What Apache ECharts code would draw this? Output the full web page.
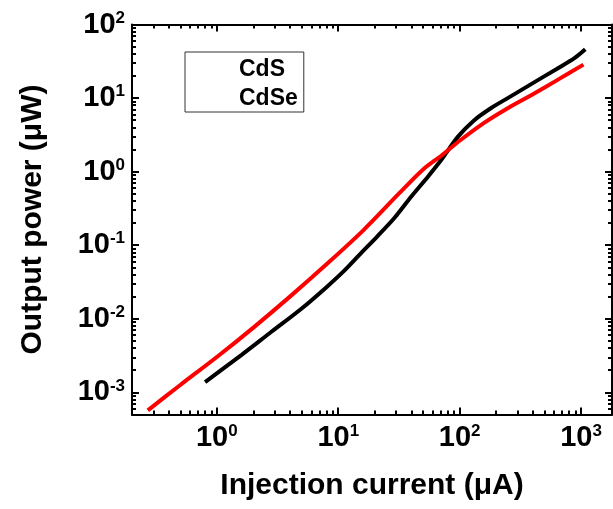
<!DOCTYPE html>
<html><head><meta charset="utf-8">
<script src="https://cdn.jsdelivr.net/npm/echarts@6/dist/echarts.min.js"></script>
<style>html,body{margin:0;padding:0;background:#fff}#c{width:613px;height:509px}</style>
</head><body><div id="c"></div>
<script>
// ---- data (log-log) ----
const cdsCurrent = [0.8, 1.6, 2.7, 5, 8, 11, 15, 21, 29, 40, 55, 71, 97, 132, 182, 251, 398, 631, 883, 1084];
const cdsPower   = [0.00138, 0.00324, 0.00631, 0.0138, 0.0269, 0.0437, 0.0745, 0.132, 0.234, 0.46, 0.861, 1.46, 2.99, 5.01, 7.33, 10.07, 15.85, 24.9, 34.8, 46];
const cdseCurrent = [0.27, 0.5, 1, 2, 4, 8, 16, 32, 50, 71, 100, 158, 251, 398, 631, 1047];
const cdsePower   = [0.000569, 0.00126, 0.00302, 0.00759, 0.02, 0.055, 0.158, 0.513, 1.07, 1.66, 2.63, 4.57, 7.33, 11.2, 17.4, 28.5];
const seriesNames = ['CdS', 'CdSe'];
const xMajorTicks = [1, 10, 100, 1000];
const yMajorTicks = [0.001, 0.01, 0.1, 1, 10, 100];
const xRange = [0.2, 1800];
const yRange = [0.0005, 100];

function minorTicks(range) {
  const out = [];
  for (let e = -5; e <= 5; e++) {
    for (let k = 2; k <= 9; k++) {
      const v = k * Math.pow(10, e);
      if (v >= range[0] * 0.999 && v <= range[1] * 1.001) out.push(v);
    }
  }
  return out;
}
const xMinorTicks = minorTicks(xRange);
const yMinorTicks = minorTicks(yRange);

const FONT = '"Liberation Sans", Arial, sans-serif';
const rich = {
  b: { fontSize: 29, fontWeight: 'bold', fontFamily: FONT, color: '#000', lineHeight: 30 },
  s: { fontSize: 17, fontWeight: 'bold', fontFamily: FONT, color: '#000', verticalAlign: 'top', lineHeight: 30 }
};
function supLabel(v) {
  const e = Math.round(Math.log10(v));
  return '{b|10}{s|' + e + '}';
}

function makeAxis(dim, position, major, range, showLine, withLabels, name) {
  const ax = {
    type: 'log', logBase: 10, gridIndex: 0, position: position, offset: 0,
    min: range[0], max: range[1],
    axisLine: { show: showLine, onZero: false, lineStyle: { color: '#000', width: 2 } },
    axisTick: { show: true, inside: true, customValues: major ? (dim === 'x' ? xMajorTicks : yMajorTicks) : (dim === 'x' ? xMinorTicks : yMinorTicks),
                length: major ? 7 : 4, lineStyle: { color: '#000', width: 2 } },
    axisLabel: { show: withLabels },
    splitLine: { show: false },
    minorTick: { show: false },
    silent: true
  };
  if (withLabels) {
    ax.axisLabel = {
      show: true, customValues: dim === 'x' ? xMajorTicks : yMajorTicks,
      formatter: supLabel, rich: rich, margin: dim === 'x' ? 8 : 7
    };
  }
  if (name) {
    ax.name = name;
    ax.nameLocation = 'middle';
    ax.nameTextStyle = { fontSize: 30, fontWeight: 'bold', fontFamily: FONT, color: '#000' };
    if (dim === 'x') { ax.nameGap = 56; } else { ax.nameGap = 84; ax.nameRotate = 90; }
  }
  return ax;
}

const option = {
  backgroundColor: '#fff',
  animation: false,
  grid: { left: 132, right: 1, top: 24.5, bottom: 94.5, containLabel: false, outerBoundsMode: 'none' },
  xAxis: [
    makeAxis('x', 'bottom', true, xRange, true, true, 'Injection current (\u03bcA)'),
    makeAxis('x', 'bottom', false, xRange, false, false),
    makeAxis('x', 'top', true, xRange, true, false),
    makeAxis('x', 'top', false, xRange, false, false)
  ],
  yAxis: [
    makeAxis('y', 'left', true, yRange, true, true, 'Output power (\u03bcW)'),
    makeAxis('y', 'left', false, yRange, false, false),
    makeAxis('y', 'right', true, yRange, true, false),
    makeAxis('y', 'right', false, yRange, false, false)
  ],
  legend: {
    data: seriesNames, orient: 'vertical', left: 185, top: 52,
    padding: [6, 6, 2, 6], itemWidth: 43, itemHeight: 12, itemGap: 6,
    borderColor: '#333', borderWidth: 1, borderRadius: 0, backgroundColor: '#fff',
    textStyle: { fontSize: 23, fontWeight: 'bold', fontFamily: FONT, color: '#000', lineHeight: 23 },
    lineStyle: { width: 4 }, icon: 'none'
  },
  series: [
    { name: seriesNames[0], type: 'line', xAxisIndex: 0, yAxisIndex: 0, symbol: 'none', showSymbol: false, smooth: 0.3,
      data: cdsCurrent.map((x, i) => [x, cdsPower[i]]), color: '#000', lineStyle: { color: '#000', width: 4 } },
    { name: seriesNames[1], type: 'line', xAxisIndex: 0, yAxisIndex: 0, symbol: 'none', showSymbol: false, smooth: 0.3,
      data: cdseCurrent.map((x, i) => [x, cdsePower[i]]), color: '#ff0000', lineStyle: { color: '#ff0000', width: 4 } }
  ]
};
const chart = echarts.init(document.getElementById('c'), null, { renderer: 'canvas' });
chart.setOption(option);
</script>
</body></html>
